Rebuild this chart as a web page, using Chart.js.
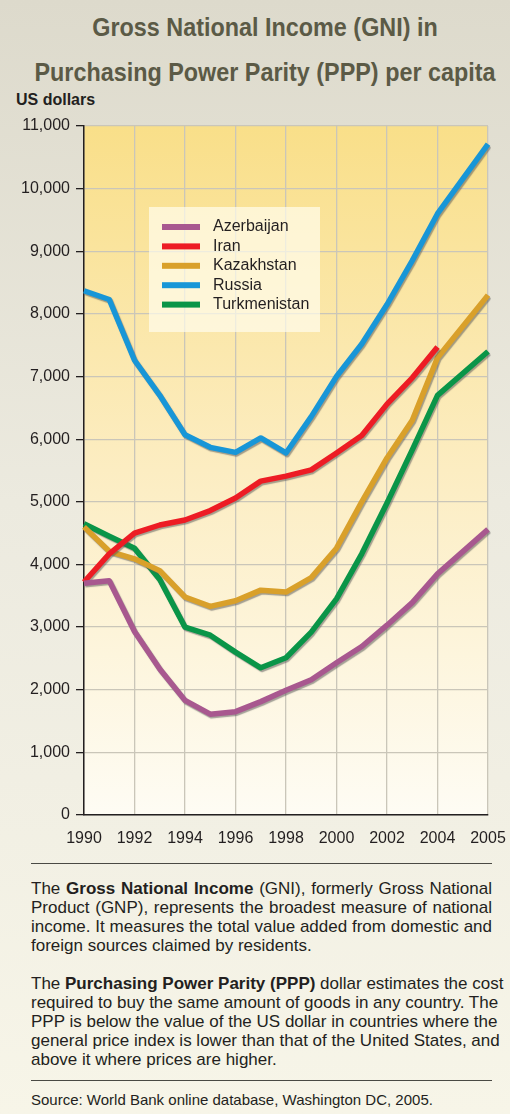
<!DOCTYPE html>
<html>
<head>
<meta charset="utf-8">
<script src="https://cdn.jsdelivr.net/npm/chart.js@4"></script>
<style>
  html, body { margin: 0; padding: 0; }
  body {
    width: 510px; height: 1114px; position: relative; overflow: hidden;
    background: linear-gradient(to bottom, #dddacc 0%, #eceadf 45%, #f7f5e8 100%);
    font-family: "Liberation Sans", Arial, Helvetica, sans-serif;
    color: #231f20;
  }
  .title {
    position: absolute; left: 10px; width: 510px; text-align: center;
    font-family: "Liberation Sans", Arial, sans-serif;
    font-weight: bold; font-size: 25px; color: #5b5a46; line-height: 30px;
    transform: scaleX(0.935); transform-origin: 50% 50%;
  }
  #t1 { top: 12px; }
  #t2 { top: 57px; }
  #unit { position: absolute; left: 16px; top: 91px; font-weight: bold; font-size: 16px; }
  #chartBox { position: absolute; left: 0; top: 0; width: 510px; height: 860px; }
  .rule { position: absolute; left: 31px; width: 461px; height: 0; border-top: 1.3px solid #4a4a44; }
  .para { position: absolute; left: 31px; width: 461px; font-size: 17px; line-height: 19px; }
  .para div { text-align: justify; text-align-last: justify; white-space: nowrap; }
  .para div.last { text-align-last: left; }
  #source { position: absolute; left: 31px; top: 1091px; font-size: 15px; }
</style>
</head>
<body>
<div class="title" id="t1">Gross National Income (GNI) in</div>
<div class="title" id="t2">Purchasing Power Parity (PPP) per capita</div>
<div id="unit">US dollars</div>
<div id="chartBox"><canvas id="gniChart"></canvas></div>

<div class="rule" style="top:863px"></div>
<div class="para" style="top:879px">
  <div>The <b>Gross National Income</b> (GNI), formerly Gross National</div>
  <div>Product (GNP), represents the broadest measure of national</div>
  <div>income. It measures the total value added from domestic and</div>
  <div class="last">foreign sources claimed by residents.</div>
</div>
<div class="para" style="top:974px">
  <div>The <b>Purchasing Power Parity (PPP)</b> dollar estimates the cost</div>
  <div>required to buy the same amount of goods in any country. The</div>
  <div>PPP is below the value of the US dollar in countries where the</div>
  <div>general price index is lower than that of the United States, and</div>
  <div class="last">above it where prices are higher.</div>
</div>
<div class="rule" style="top:1080px"></div>
<div id="source">Source: World Bank online database, Washington DC, 2005.</div>

<script>
// --- DATA ---
const years = ['1990','1991','1992','1993','1994','1995','1996','1997','1998','1999','2000','2001','2002','2003','2004','2005'];
const azerbaijan   = [3700, 3740, 2930, 2330, 1830, 1610, 1650, 1810, 1990, 2160, 2430, 2690, 3030, 3390, 3850, 4560];
const iran         = [3720, 4170, 4500, 4630, 4710, 4860, 5060, 5330, 5410, 5510, 5780, 6060, 6560, 6980, 7470, null];
const kazakhstan   = [4600, 4210, 4090, 3900, 3480, 3330, 3420, 3590, 3560, 3790, 4260, 5000, 5700, 6300, 7300, 8300];
const russia       = [8370, 8230, 7260, 6700, 6070, 5870, 5790, 6020, 5780, 6360, 7000, 7520, 8150, 8850, 9600, 10710];
const turkmenistan = [4650, 4450, 4260, 3760, 3000, 2870, 2600, 2350, 2510, 2920, 3450, 4170, 4980, 5830, 6700, 7400];

const seriesNames  = ['Azerbaijan', 'Iran', 'Kazakhstan', 'Russia', 'Turkmenistan'];
const seriesColors = ['#a8588f', '#ed1c24', '#d9a02a', '#1896d7', '#0a9548'];
const seriesValues = [azerbaijan, iran, kazakhstan, russia, turkmenistan];

// the original plot gives the last year (2004 -> 2005) a double slot,
// so put an empty slot in front of 2005
function withSpacer(arr, filler) {
    return arr.slice(0, -1).concat([filler, arr[arr.length - 1]]);
}
const labels = withSpacer(years, '');

const gridColor = '#cac6b9';
const inkColor = '#231f20';

// --- PLUGINS ---
const decorPlugin = {
    id: 'decor',
    beforeDraw(chart) {
        const { ctx, chartArea: a } = chart;
        const g = ctx.createLinearGradient(0, a.top, 0, a.bottom);
        g.addColorStop(0, '#f9df89');
        g.addColorStop(0.5, '#fcedc2');
        g.addColorStop(1, '#fefcf4');
        ctx.save();
        ctx.fillStyle = g;
        ctx.fillRect(a.left, a.top, a.right - a.left, a.bottom - a.top);
        ctx.restore();
    },
    beforeDatasetsDraw(chart) {
        const ctx = chart.ctx;
        ctx.save();
        ctx.shadowColor = 'rgba(90, 90, 90, 0.55)';
        ctx.shadowOffsetX = 1.2;
        ctx.shadowOffsetY = 1.6;
        ctx.shadowBlur = 1;
    },
    afterDatasetsDraw(chart) {
        const { ctx, chartArea: a } = chart;
        ctx.restore();

        // legend box inside the plot
        const bx = a.left + 65, by = a.top + 81, bw = 171, bh = 125;
        ctx.save();
        ctx.fillStyle = 'rgba(255, 253, 240, 0.68)';
        ctx.fillRect(bx, by, bw, bh);
        ctx.font = '16px "Liberation Sans", Arial, sans-serif';
        ctx.textBaseline = 'middle';
        chart.data.datasets.forEach((ds, i) => {
            const y = by + 20 + i * 19.4;
            ctx.fillStyle = ds.borderColor;
            ctx.fillRect(bx + 13, y - 3, 38, 6);
            ctx.fillStyle = inkColor;
            ctx.fillText(ds.label, bx + 64, y);
        });
        ctx.restore();
    }
};

// --- CHART ---
new Chart(document.getElementById('gniChart'), {
    type: 'line',
    data: {
        labels,
        datasets: seriesNames.map((name, i) => ({
            label: name,
            data: withSpacer(seriesValues[i], null),
            borderColor: seriesColors[i],
            backgroundColor: seriesColors[i],
            borderWidth: 5.5,
            borderJoinStyle: 'round',
            borderCapStyle: 'butt',
            pointRadius: 0,
            tension: 0,
            spanGaps: true
        }))
    },
    options: {
        responsive: true,
        maintainAspectRatio: false,
        animation: false,
        events: [],
        layout: { padding: { top: 126, right: 22, bottom: 0, left: 0 } },
        plugins: { legend: { display: false }, tooltip: { enabled: false } },
        scales: {
            x: {
                type: 'category',
                afterFit: s => { s.height = 45; s.paddingLeft = 0; s.paddingRight = 0; },
                border: { color: inkColor, width: 1.5 },
                grid: {
                    color: c => (c.index % 2 === 0 ? gridColor : 'rgba(0,0,0,0)'),
                    lineWidth: 1.3,
                    drawTicks: false
                },
                ticks: {
                    autoSkip: false,
                    maxRotation: 0,
                    padding: 14,
                    color: inkColor,
                    font: { size: 16, family: '"Liberation Sans", Arial, sans-serif' },
                    callback: function(v, i) { return i % 2 === 0 ? this.getLabelForValue(v) : ''; }
                }
            },
            y: {
                min: 0,
                max: 11000,
                afterFit: s => { s.width = 84; s.paddingTop = 0; s.paddingBottom = 0; },
                border: { color: inkColor, width: 1.5 },
                grid: { color: gridColor, lineWidth: 1.3, tickColor: inkColor, tickLength: 8 },
                ticks: {
                    stepSize: 1000,
                    padding: 6,
                    color: inkColor,
                    font: { size: 16, family: '"Liberation Sans", Arial, sans-serif' },
                    callback: v => v.toLocaleString('en-US')
                }
            }
        }
    },
    plugins: [decorPlugin]
});
</script>
</body>
</html>
